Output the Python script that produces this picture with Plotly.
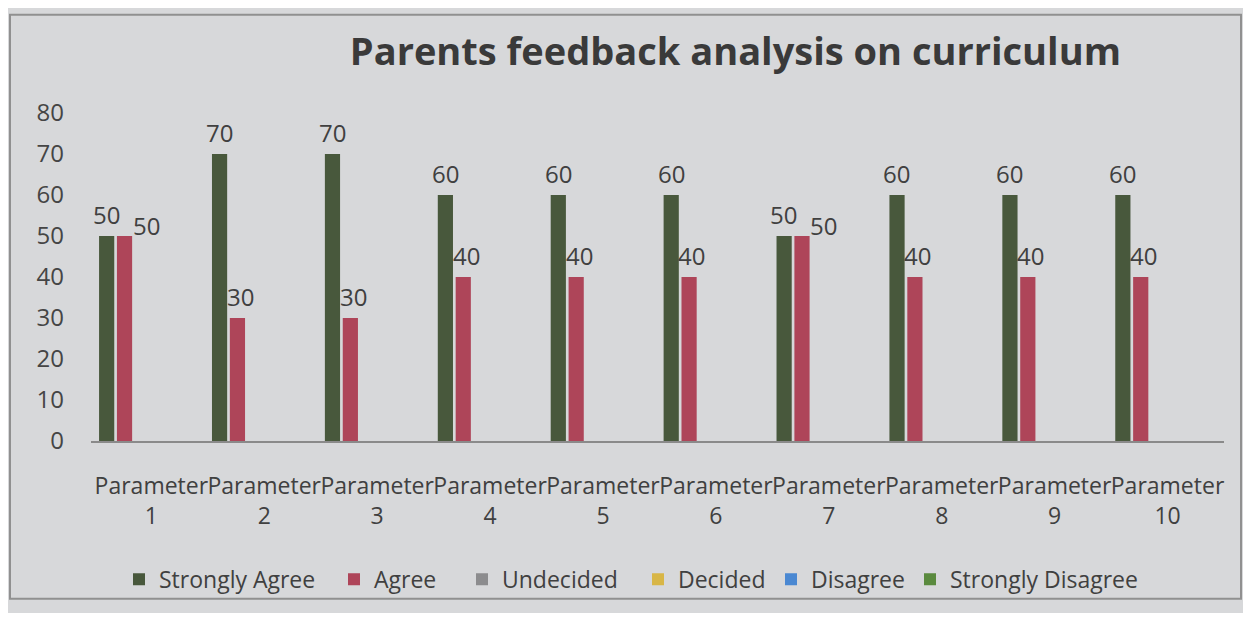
import plotly.graph_objects as go

categories = [f"Parameter<br>{i}" for i in range(1, 11)]
series_names = ["Strongly Agree", "Agree", "Undecided", "Decided", "Disagree", "Strongly Disagree"]
strongly_agree = [50, 70, 70, 60, 60, 60, 50, 60, 60, 60]
agree = [50, 30, 30, 40, 40, 40, 50, 40, 40, 40]
undecided = [0] * 10
decided = [0] * 10
disagree = [0] * 10
strongly_disagree = [0] * 10
values = [strongly_agree, agree, undecided, decided, disagree, strongly_disagree]
colors = ["#48583c", "#ae4559", "#8c8c8e", "#d8b646", "#4a88d2", "#5a8a3e"]

FONT = "Open Sans"
W, H = 1235, 605
L, R, T, B = 83, 19, 105, 163
BARGAP = 0.05
plot_w = W - L - R
plot_h = H - T - B

# legend entry text start positions (px from figure left)
legend_text_x = [153, 368, 496, 672, 805, 944]
legend_names = ["legend", "legend2", "legend3", "legend4", "legend5", "legend6"]

fig = go.Figure()
for name, vals, col, lg in zip(series_names, values, colors, legend_names):
    fig.add_trace(go.Bar(x=categories, y=vals, name=name, legend=lg,
                         marker_color=col, marker_line_width=0))

# data labels (Excel-like placement above bars)
cat_w = plot_w / len(categories)
slot = cat_w * (1 - BARGAP) / len(series_names)
annotations = []
for s_idx, vals in enumerate([strongly_agree, agree]):
    base = (s_idx - (len(series_names) - 1) / 2) * slot
    for i, v in enumerate(vals):
        dx, dy = base, 22
        if s_idx == 1:
            dx += 3
            if v == strongly_agree[i]:
                dx, dy = base + 22, 11
        annotations.append(dict(x=categories[i], y=v, xref="x", yref="y",
                                text=str(v), showarrow=False, xshift=dx, yshift=dy,
                                font=dict(size=24, color="#404040", family=FONT)))

legend_y = (H - B - 584) / plot_h
layout_legends = {}
for lg, tx in zip(legend_names, legend_text_x):
    layout_legends[lg] = dict(
        orientation="h", x=(tx - 42 - L) / plot_w, xanchor="left",
        y=legend_y, yanchor="middle", bgcolor="rgba(0,0,0,0)",
        font=dict(size=23, color="#404040", family=FONT), itemwidth=30)

fig.update_layout(
    width=W, height=H,
    paper_bgcolor="#d7d8da", plot_bgcolor="#d7d8da",
    barmode="group", bargap=BARGAP, bargroupgap=0.15,
    margin=dict(l=L, r=R, t=T, b=B),
    font=dict(family=FONT, color="#404040"),
    title=dict(text="<b>Parents feedback analysis on curriculum</b>",
               x=0.589, xanchor="center", y=0.927, yanchor="middle",
               font=dict(size=38, color="#3a3a3a", family=FONT)),
    showlegend=True,
    yaxis=dict(range=[0, 80], dtick=10, showgrid=False, zeroline=False,
               showline=False, ticks="", ticklabelstandoff=26,
               tickfont=dict(size=24, color="#454545")),
    xaxis=dict(showline=True, linecolor="#8a8a8a", linewidth=1.5, ticks="",
               ticklabelstandoff=24, tickfont=dict(size=23, color="#404040"),
               tickangle=0),
    annotations=annotations,
    **layout_legends,
)
fig.add_shape(type="rect", xref="paper", yref="paper",
              x0=(2 - L) / plot_w, x1=(W - 2 - L) / plot_w,
              y0=(H - B - (H - 1)) / plot_h, y1=(H - B - 4) / plot_h,
              line=dict(color="#909090", width=2), fillcolor="rgba(0,0,0,0)")
fig.write_html("out.html")
